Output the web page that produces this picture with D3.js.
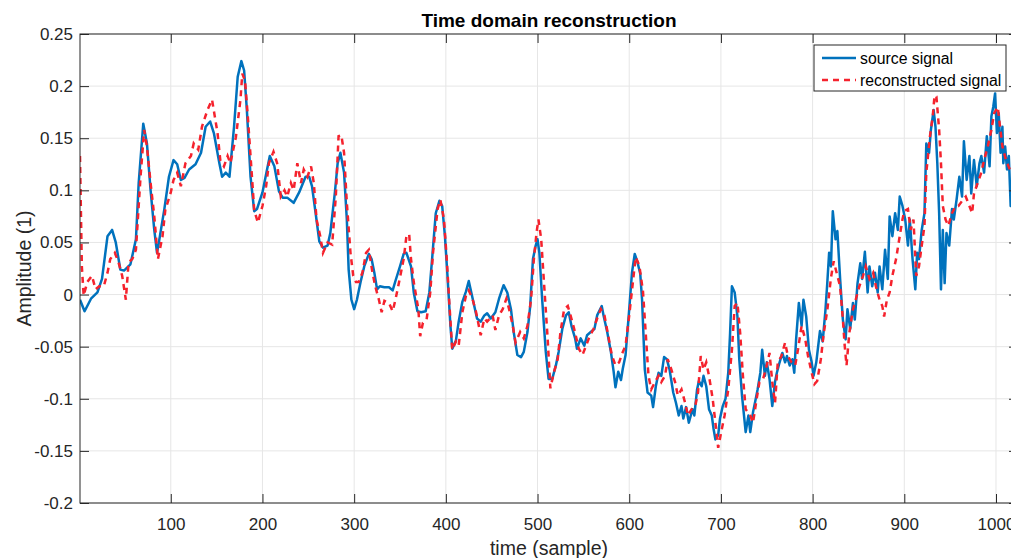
<!DOCTYPE html>
<html lang="en">
  <head>
    <meta charset="UTF-8" />
    <title>Time domain reconstruction</title>
    <script src="https://d3js.org/d3.v7.min.js"></script>
    <style>
      body {
        margin: 0;
        background: #fff;
        font-family: "Liberation Sans", Arial, sans-serif;
      }
      svg {
        display: block;
      }
      .tick text {
        font-size: 17px;
        fill: #262626;
      }
      .tick line {
        stroke: #262626;
      }
      .grid line {
        stroke: #e6e6e6;
        stroke-width: 1px;
      }
      .line-source {
        fill: none;
        stroke: #0072bd;
        stroke-width: 2.5px;
        stroke-linejoin: round;
      }
      .line-recon {
        fill: none;
        stroke: #f5222d;
        stroke-width: 2.5px;
        stroke-dasharray: 6 5;
      }
    </style>
  </head>
  <body>
    <svg id="chart"></svg>
    <script>
      // source signal (blue) - sample index and amplitude
      const sourceX = [1, 6, 13, 20, 25, 31, 36, 40, 45, 49, 56, 62, 65, 70, 74, 78, 82, 85, 87, 93, 98, 103, 107, 111, 115, 120, 127, 133, 138, 143, 147, 153, 156, 160, 164, 169, 173, 177, 180, 183, 187, 191, 194, 200, 205,
        208, 213, 218, 222, 227, 234, 240, 247, 251, 254, 258, 262, 266, 271, 274, 279, 282, 285, 289, 292, 294, 297, 300, 303, 307, 311, 316, 319, 322, 325, 328, 333, 338, 342, 345, 350, 354, 357, 362, 365, 369, 373, 378, 382, 385, 389, 393, 396, 399, 402, 405, 407, 411,
        414, 418, 422, 425, 428, 431, 434, 438, 442, 445, 449, 454, 458, 463, 467, 471, 474, 478, 482, 485, 489, 492, 495, 498, 500, 502, 505, 509, 512, 516, 520, 523, 527, 531, 534, 537, 541, 543, 547, 551, 554, 558, 562, 565, 570, 572, 576, 580, 583, 585, 588, 591, 593, 596, 600, 603, 606, 609, 612,
        614, 617, 620, 624, 626, 629, 632, 635, 638, 641, 644, 648, 651, 654, 657, 659, 662, 665, 669, 671, 674, 676, 679, 681, 684, 687, 690, 692, 694, 697, 699, 702, 705, 708, 710, 712, 715, 718, 720, 723, 727, 730, 732, 735, 738, 740, 743, 745, 748, 750, 753, 756, 759, 761, 764, 767, 770, 772, 775, 778, 780, 782, 785, 788, 790, 793, 796, 799, 801, 804,
        808, 811, 814, 816, 818, 820, 822, 825, 827, 830, 833, 836, 838, 841, 844, 846, 849, 852, 854, 857, 860, 862, 865, 868, 871, 873, 876, 879, 882, 884, 887, 890, 893, 895, 898, 901, 904, 906, 909, 912, 914, 916, 919, 922, 924, 927, 929, 932, 934, 936, 938, 940, 942, 944, 946, 949, 952, 954, 957, 960, 963, 965, 968, 971, 973, 976, 979, 982, 984, 987, 990, 993, 995, 997, 999, 1001, 1003, 1005, 1007, 1008, 1010, 1012, 1014, 1016, 1019, 1021, 1024];
      const sourceY = [-0.005, -0.016, -0.004, 0.002, 0.015, 0.056, 0.062, 0.05, 0.024, 0.023, 0.029, 0.053, 0.107, 0.164, 0.145, 0.1, 0.062, 0.04, 0.05, 0.082, 0.113, 0.129, 0.125, 0.11, 0.112, 0.12, 0.125, 0.136, 0.161, 0.166, 0.155, 0.126, 0.113, 0.117, 0.113, 0.161, 0.209, 0.224, 0.215, 0.177, 0.113, 0.08, 0.082, 0.098, 0.12,
        0.133, 0.123, 0.099, 0.093, 0.093, 0.088, 0.098, 0.113, 0.113, 0.104, 0.078, 0.051, 0.045, 0.047, 0.059, 0.098, 0.126, 0.136, 0.117, 0.072, 0.024, -0.005, -0.014, -0.005, 0.012, 0.027, 0.039, 0.034, 0.021, 0.005, 0.008, 0.007, 0.007, 0.004, 0.013, 0.027, 0.039, 0.04, 0.027, 0.002, -0.016, -0.017, -0.016, 0.002, 0.034, 0.078, 0.09, 0.085, 0.056, 0.015, -0.03, -0.052, -0.044,
        -0.026, -0.007, 0.003, 0.013, 0.001, -0.011, -0.023, -0.026, -0.02, -0.018, -0.023, -0.017, -0.004, 0.009, 0.002, -0.014, -0.036, -0.058, -0.06, -0.055, -0.036, -0.011, 0.034, 0.047, 0.053, 0.04, -0.004, -0.055, -0.081, -0.081, -0.068, -0.055, -0.033, -0.02, -0.017, -0.03, -0.042, -0.052, -0.042, -0.049, -0.039, -0.036, -0.033, -0.02, -0.011, -0.02, -0.036, -0.055, -0.074, -0.089, -0.074, -0.082, -0.071, -0.058, -0.014, 0.021, 0.039, 0.031, 0.02,
        -0.005, -0.072, -0.094, -0.097, -0.108, -0.088, -0.075, -0.078, -0.06, -0.062, -0.072, -0.094, -0.104, -0.116, -0.107, -0.119, -0.108, -0.123, -0.11, -0.116, -0.091, -0.083, -0.088, -0.078, -0.088, -0.11, -0.116, -0.129, -0.139, -0.135, -0.119, -0.107, -0.1, -0.075, -0.037, 0.008, 0.002, -0.021, -0.062, -0.097, -0.132, -0.116, -0.132, -0.113, -0.1, -0.091, -0.075, -0.053, -0.078, -0.065, -0.081, -0.107, -0.084, -0.075, -0.065, -0.056, -0.065, -0.059, -0.068, -0.062, -0.075, -0.043, -0.008, -0.03, -0.005, -0.021, -0.053, -0.065, -0.078, -0.065,
        -0.035, -0.045, -0.015, 0.011, 0.04, 0.027, 0.08, 0.053, 0.061, 0.015, -0.024, -0.043, -0.014, -0.033, -0.008, -0.024, 0.011, 0.03, 0.015, 0.041, 0.002, 0.027, 0.008, 0.021, 0.002, 0.027, 0.005, 0.043, 0.015, 0.075, 0.056, 0.078, 0.062, 0.094, 0.085, 0.072, 0.047, 0.072, 0.034, 0.005, 0.04, 0.034, 0.062, 0.078, 0.145, 0.136, 0.158, 0.177, 0.161, 0.126, 0.078, 0.005, 0.062, 0.011, 0.059, 0.047, 0.082, 0.072, 0.091, 0.113, 0.094, 0.147, 0.11, 0.133, 0.097, 0.129, 0.104, 0.126, 0.133, 0.117, 0.152, 0.123, 0.171, 0.18, 0.193, 0.155, 0.174, 0.136, 0.161, 0.126, 0.142, 0.12, 0.133, 0.085, 0.11, 0.095, 0.105];

      // reconstructed signal (red dashed)
      const reconX = [1, 3, 5, 9, 14, 18, 22, 27, 31, 34, 39, 43, 47, 51, 54, 58, 62, 67, 71, 74, 78, 82, 86, 91, 94, 100, 103, 107, 111, 116, 122, 125, 130, 134, 140, 145, 148, 151, 154, 158, 162, 165, 171, 176, 178, 181, 184, 187, 191, 195, 200, 204,
        207, 212, 216, 220, 224, 227, 231, 234, 238, 242, 245, 249, 253, 256, 259, 263, 266, 271, 276, 280, 283, 286, 289, 292, 296, 299, 302, 305, 309, 313, 316, 320, 323, 327, 330, 333, 338, 342, 345, 349, 354, 357, 360, 362, 365, 370, 372, 375, 379, 383, 386, 391, 394, 398, 401, 404, 407, 411,
        414, 418, 422, 425, 429, 433, 438, 442, 445, 451, 454, 458, 462, 466, 469, 473, 476, 481, 485, 489, 493, 496, 499, 501, 504, 507, 511, 514, 518, 522, 525, 529, 533, 536, 540, 545, 549, 553, 556, 561, 565, 569, 573, 577, 581, 585, 589, 593, 596, 600, 604, 607, 611,
        615, 618, 621, 624, 628, 632, 635, 639, 642, 646, 650, 653, 657, 661, 664, 668, 672, 675, 678, 681, 684, 687, 691, 694, 697, 701, 704, 708, 712, 715, 718, 721, 724, 727, 732, 735, 739, 742, 746, 750, 753, 756, 759, 762, 766, 770, 773, 777, 781, 784, 788, 792, 795, 799, 802, 805,
        809, 812, 816, 820, 823, 827, 830, 833, 835, 837, 840, 844, 847, 851, 855, 858, 862, 866, 869, 873, 876, 878, 881, 884, 887, 891, 895, 898, 900, 904, 907, 910, 913, 916, 919, 922, 924, 928, 931, 933, 935, 938, 940, 942, 945, 948, 952, 956, 959, 964, 967, 971, 974, 976, 980, 984, 987, 991, 995, 998, 1002, 1004, 1007, 1011, 1015, 1019, 1024];
      const reconY = [0.133, 0.027, -0.001, 0.012, 0.018, 0.005, 0.008, 0.008, 0.021, 0.034, 0.04, 0.031, 0.018, -0.005, 0.031, 0.034, 0.043, 0.113, 0.158, 0.142, 0.107, 0.075, 0.034, 0.056, 0.081, 0.098, 0.11, 0.117, 0.104, 0.126, 0.133, 0.145, 0.139, 0.161, 0.177, 0.187, 0.171, 0.155, 0.129, 0.123, 0.133, 0.126, 0.151, 0.187, 0.212, 0.205, 0.171, 0.133, 0.081, 0.069, 0.085, 0.104,
        0.126, 0.137, 0.126, 0.094, 0.1, 0.094, 0.107, 0.1, 0.126, 0.107, 0.12, 0.113, 0.123, 0.107, 0.072, 0.056, 0.04, 0.05, 0.048, 0.094, 0.152, 0.153, 0.136, 0.088, 0.04, 0.018, 0.012, 0.012, 0.021, 0.04, 0.043, 0.021, 0.008, -0.005, -0.017, -0.006, -0.008, -0.016, -0.005, 0.012, 0.034, 0.056, 0.058, 0.034, 0.012, -0.014, -0.04, -0.027, -0.024, 0.002, 0.04, 0.082, 0.091, 0.072, 0.034, -0.011, -0.053, -0.045,
        -0.049, -0.017, -0.001, 0.004, -0.004, -0.017, -0.039, -0.023, -0.026, -0.02, -0.034, -0.02, -0.014, -0.004, -0.014, -0.03, -0.046, -0.036, -0.042, -0.03, -0.004, 0.034, 0.06, 0.072, 0.053, 0.012, -0.042, -0.09, -0.074, -0.062, -0.036, -0.014, -0.011, -0.02, -0.033, -0.052, -0.058, -0.049, -0.042, -0.033, -0.023, -0.014, -0.02, -0.039, -0.058, -0.068, -0.065, -0.055, -0.049, -0.02, 0.012, 0.036, 0.028,
        0.003, -0.037, -0.078, -0.091, -0.084, -0.078, -0.084, -0.078, -0.062, -0.072, -0.084, -0.097, -0.091, -0.104, -0.116, -0.11, -0.107, -0.094, -0.059, -0.072, -0.065, -0.078, -0.1, -0.123, -0.147, -0.129, -0.116, -0.091, -0.053, -0.011, -0.008, -0.037, -0.078, -0.11, -0.116, -0.123, -0.1, -0.084, -0.081, -0.068, -0.056, -0.084, -0.104, -0.065, -0.059, -0.046, -0.059, -0.065, -0.068, -0.053, -0.03, -0.043, -0.059, -0.075, -0.086, -0.083,
        -0.062, -0.038, -0.015, 0.016, 0.032, 0.018, 0.008, -0.024, -0.049, -0.068, -0.037, -0.014, -0.005, 0.008, 0.018, 0.027, 0.015, 0.021, 0.008, -0.005, -0.011, -0.021, -0.005, 0.002, 0.018, 0.034, 0.056, 0.072, 0.08, 0.082, 0.062, 0.072, 0.018, 0.027, 0.047, 0.066, 0.117, 0.152, 0.171, 0.191, 0.19, 0.158, 0.126, 0.085, 0.072, 0.066, 0.078, 0.085, 0.085, 0.091, 0.094, 0.085, 0.078, 0.097, 0.107, 0.117, 0.129, 0.142, 0.158, 0.174, 0.18, 0.164, 0.142, 0.129, 0.12, 0.125, 0.13];

      const xTicks = [100, 200, 300, 400, 500, 600, 700, 800, 900, 1000];
      const yTicks = [-0.2, -0.15, -0.1, -0.05, 0, 0.05, 0.1, 0.15, 0.2, 0.25];
      const seriesNames = ["source signal", "reconstructed signal"];

      const width = 1011;
      const height = 558;
      const margin = { top: 34, right: -7, bottom: 55, left: 80 };

      const sourceData = sourceX.map((x, i) => ({ x: x, y: sourceY[i] }));
      const reconData = reconX.map((x, i) => ({ x: x, y: reconY[i] }));

      const xScale = d3
        .scaleLinear()
        .domain([1, 1024])
        .range([margin.left, width - margin.right]);

      const yScale = d3
        .scaleLinear()
        .domain([-0.2, 0.25])
        .range([height - margin.bottom, margin.top]);

      const svg = d3.select("#chart").attr("width", width).attr("height", height);

      const plotW = width - margin.right - margin.left;
      const plotH = height - margin.bottom - margin.top;

      // grid lines
      const grid = svg.append("g").attr("class", "grid");
      grid
        .selectAll("line.gx")
        .data(xTicks)
        .enter()
        .append("line")
        .attr("class", "gx")
        .attr("x1", (d) => xScale(d))
        .attr("x2", (d) => xScale(d))
        .attr("y1", margin.top)
        .attr("y2", height - margin.bottom);
      grid
        .selectAll("line.gy")
        .data(yTicks)
        .enter()
        .append("line")
        .attr("class", "gy")
        .attr("x1", margin.left)
        .attr("x2", width - margin.right)
        .attr("y1", (d) => yScale(d))
        .attr("y2", (d) => yScale(d));

      // clip for the lines
      svg
        .append("clipPath")
        .attr("id", "clip")
        .append("rect")
        .attr("x", margin.left)
        .attr("y", margin.top)
        .attr("width", plotW)
        .attr("height", plotH);

      const line = d3
        .line()
        .x((d) => xScale(d.x))
        .y((d) => yScale(d.y));

      svg
        .append("path")
        .datum(sourceData)
        .attr("class", "line-source")
        .attr("clip-path", "url(#clip)")
        .attr("d", line);

      svg
        .append("path")
        .datum(reconData)
        .attr("class", "line-recon")
        .attr("clip-path", "url(#clip)")
        .attr("d", line);

      // axes, ticks pointing inwards
      const fmtY = (d) => String(+d.toFixed(2));

      svg
        .append("g")
        .attr("transform", `translate(0, ${height - margin.bottom})`)
        .call(d3.axisBottom(xScale).tickValues(xTicks).tickFormat(d3.format("d")).tickSizeInner(-9).tickSizeOuter(0).tickPadding(15))
        .call((g) => g.select(".domain").remove());

      svg
        .append("g")
        .attr("transform", `translate(0, ${margin.top})`)
        .call(d3.axisTop(xScale).tickValues(xTicks).tickFormat("").tickSizeInner(-9).tickSizeOuter(0))
        .call((g) => g.select(".domain").remove());

      svg
        .append("g")
        .attr("transform", `translate(${margin.left}, 0)`)
        .call(d3.axisLeft(yScale).tickValues(yTicks).tickFormat(fmtY).tickSizeInner(-9).tickSizeOuter(0).tickPadding(7))
        .call((g) => g.select(".domain").remove());

      svg
        .append("g")
        .attr("transform", `translate(${width - margin.right}, 0)`)
        .call(d3.axisRight(yScale).tickValues(yTicks).tickFormat("").tickSizeInner(-9).tickSizeOuter(0))
        .call((g) => g.select(".domain").remove());

      // box
      svg
        .append("rect")
        .attr("x", margin.left)
        .attr("y", margin.top)
        .attr("width", plotW)
        .attr("height", plotH)
        .attr("fill", "none")
        .attr("stroke", "#262626")
        .attr("stroke-width", 1);

      // title and axis labels
      svg
        .append("text")
        .attr("x", (margin.left + width - margin.right) / 2)
        .attr("y", 27)
        .attr("text-anchor", "middle")
        .attr("font-size", "19px")
        .attr("font-weight", "bold")
        .attr("fill", "#000")
        .text("Time domain reconstruction");

      svg
        .append("text")
        .attr("x", (margin.left + width - margin.right) / 2)
        .attr("y", 555)
        .attr("text-anchor", "middle")
        .attr("font-size", "19.5px")
        .attr("fill", "#262626")
        .text("time (sample)");

      svg
        .append("text")
        .attr("transform", "rotate(-90)")
        .attr("x", -(margin.top + height - margin.bottom) / 2)
        .attr("y", 31)
        .attr("text-anchor", "middle")
        .attr("font-size", "19.5px")
        .attr("fill", "#262626")
        .text("Amplitude (1)");

      // legend
      const legend = svg.append("g").attr("transform", "translate(814, 45)");
      legend
        .append("rect")
        .attr("width", 192)
        .attr("height", 46)
        .attr("fill", "#fff")
        .attr("stroke", "#262626")
        .attr("stroke-width", 1);

      seriesNames.forEach((name, i) => {
        const y = 13 + i * 22;
        legend
          .append("line")
          .attr("class", i === 0 ? "line-source" : "line-recon")
          .attr("x1", 8)
          .attr("x2", 42)
          .attr("y1", y)
          .attr("y2", y);
        legend
          .append("text")
          .attr("x", 46)
          .attr("y", y + 5.5)
          .attr("font-size", "15.8px")
          .attr("fill", "#000")
          .text(name);
      });
    </script>
  </body>
</html>
